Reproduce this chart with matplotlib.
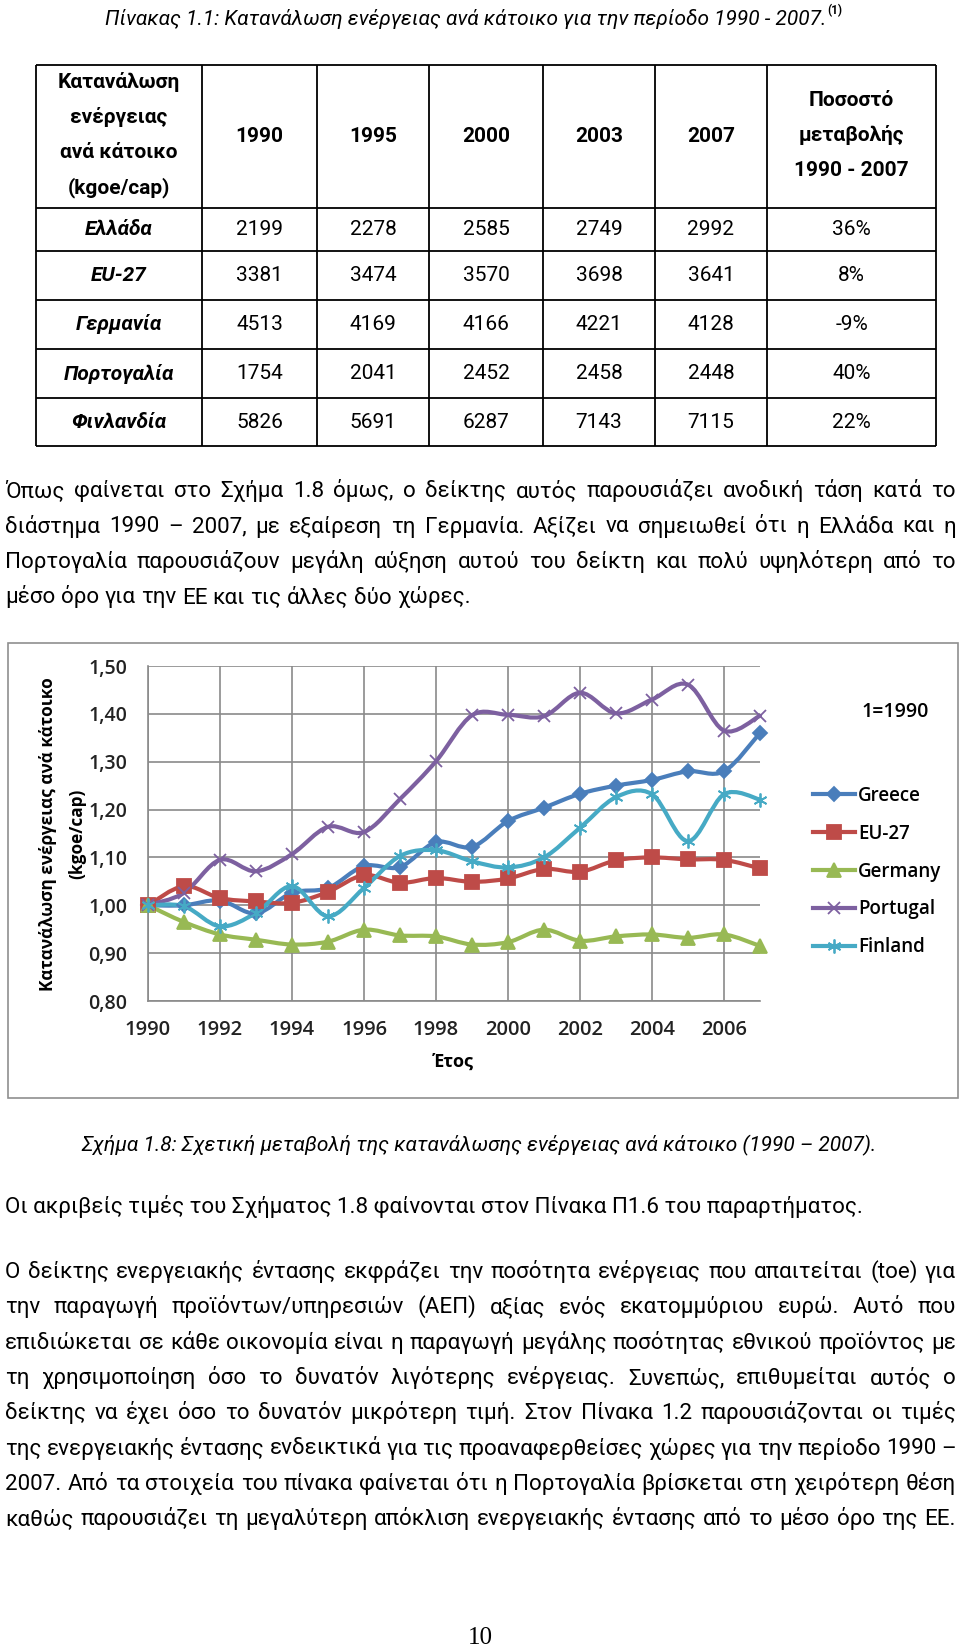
import numpy as np
import matplotlib.pyplot as plt
from matplotlib.path import Path
from matplotlib.patches import PathPatch, Rectangle
from matplotlib.lines import Line2D

plt.rcParams['font.family'] = ['Roboto', 'DejaVu Sans']
chart_font = ['Open Sans', 'DejaVu Sans']

# ---- table data (kgoe/cap) ----
table_years = ['1990', '1995', '2000', '2003', '2007']
table_countries = ['Ελλάδα', 'EU-27', 'Γερμανία', 'Πορτογαλία', 'Φινλανδία']
greece_kgoe = [2199, 2278, 2585, 2749, 2992]
eu27_kgoe = [3381, 3474, 3570, 3698, 3641]
germany_kgoe = [4513, 4169, 4166, 4221, 4128]
portugal_kgoe = [1754, 2041, 2452, 2458, 2448]
finland_kgoe = [5826, 5691, 6287, 7143, 7115]
change_pct = ['36%', '8%', '-9%', '40%', '22%']
header_first = ['Κατανάλωση', 'ενέργειας', 'ανά κάτοικο', '(kgoe/cap)']
header_last = ['Ποσοστό', 'μεταβολής', '1990 - 2007']

# ---- chart data (1 = 1990) ----
years = list(range(1990, 2008))
greece = [1.00, 1.00, 1.01, 0.983, 1.026, 1.036, 1.082, 1.08, 1.132, 1.122,
          1.176, 1.204, 1.233, 1.25, 1.262, 1.28, 1.28, 1.36]
eu27 = [1.00, 1.04, 1.015, 1.008, 1.005, 1.028, 1.063, 1.047, 1.057, 1.049,
        1.056, 1.076, 1.07, 1.094, 1.10, 1.096, 1.095, 1.077]
germany = [1.00, 0.965, 0.939, 0.928, 0.918, 0.924, 0.949, 0.937, 0.935, 0.918,
           0.923, 0.949, 0.926, 0.935, 0.939, 0.932, 0.939, 0.915]
portugal = [1.00, 1.026, 1.095, 1.071, 1.107, 1.164, 1.153, 1.222, 1.301, 1.397,
            1.398, 1.395, 1.444, 1.401, 1.43, 1.461, 1.365, 1.396]
finland = [1.00, 0.998, 0.956, 0.984, 1.04, 0.977, 1.036, 1.103, 1.115, 1.092,
           1.079, 1.10, 1.162, 1.226, 1.232, 1.134, 1.232, 1.221]
series_names = ['Greece', 'EU-27', 'Germany', 'Portugal', 'Finland']
series_colors = ['#4A7EBB', '#BE4B48', '#98B954', '#7D60A0', '#46AAC5']
y_ticks = [0.8, 0.9, 1.0, 1.1, 1.2, 1.3, 1.4, 1.5]
x_ticks = list(range(1990, 2007, 2))

# ---- text ----
table_caption = 'Πίνακας 1.1: Κατανάλωση ενέργειας ανά κάτοικο για την περίοδο 1990 - 2007.'
para1 = ['Όπως φαίνεται στο Σχήμα 1.8 όμως, ο δείκτης αυτός παρουσιάζει ανοδική τάση κατά το',
         'διάστημα 1990 – 2007, με εξαίρεση τη Γερμανία. Αξίζει να σημειωθεί ότι η Ελλάδα και η',
         'Πορτογαλία παρουσιάζουν μεγάλη αύξηση αυτού του δείκτη και πολύ υψηλότερη από το',
         'μέσο όρο για την ΕΕ και τις άλλες δύο χώρες.']
fig_caption = 'Σχήμα 1.8: Σχετική μεταβολή της κατανάλωσης ενέργειας ανά κάτοικο (1990 – 2007).'
note_line = 'Οι ακριβείς τιμές του Σχήματος 1.8 φαίνονται στον Πίνακα Π1.6 του παραρτήματος.'
para2 = ['Ο δείκτης ενεργειακής έντασης εκφράζει την ποσότητα ενέργειας που απαιτείται (toe) για',
         'την παραγωγή προϊόντων/υπηρεσιών (ΑΕΠ) αξίας ενός εκατομμύριου ευρώ. Αυτό που',
         'επιδιώκεται σε κάθε οικονομία είναι η παραγωγή μεγάλης ποσότητας εθνικού προϊόντος με',
         'τη χρησιμοποίηση όσο το δυνατόν λιγότερης ενέργειας. Συνεπώς, επιθυμείται αυτός ο',
         'δείκτης να έχει όσο το δυνατόν μικρότερη τιμή. Στον Πίνακα 1.2 παρουσιάζονται οι τιμές',
         'της ενεργειακής έντασης ενδεικτικά για τις προαναφερθείσες χώρες για την περίοδο 1990 –',
         '2007. Από τα στοιχεία του πίνακα φαίνεται ότι η Πορτογαλία βρίσκεται στη χειρότερη θέση',
         'καθώς παρουσιάζει τη μεγαλύτερη απόκλιση ενεργειακής έντασης από το μέσο όρο της ΕΕ.']

# page canvas in pixel units
fig = plt.figure(figsize=(9.6, 16.51), dpi=100)
page = fig.add_axes([0, 0, 1, 1])
page.set_xlim(0, 960)
page.set_ylim(1651, 0)
page.axis('off')
renderer = fig.canvas.get_renderer()


def width_of(s, size, **kw):
    t = page.text(0, 0, s, fontsize=size, **kw)
    w = t.get_window_extent(renderer).width
    t.remove()
    return w


def fit(s, target, **kw):
    return 10 * target / width_of(s, 10, **kw)


def justify(line, y, size, x0=5, x1=956, last=False):
    words = line.split(' ')
    widths = [width_of(w, size) for w in words]
    if last:
        gap = width_of('a b', size) - width_of('ab', size)
    else:
        gap = (x1 - x0 - sum(widths)) / (len(words) - 1)
    x = x0
    for w, wd in zip(words, widths):
        page.text(x, y, w, fontsize=size, va='baseline')
        x += wd + gap


# ---- table ----
cap_size = fit(table_caption, 719, style='italic')
page.text(105, 25, table_caption, fontsize=cap_size, style='italic', va='baseline')
cap_w = width_of(table_caption, cap_size, style='italic')
page.text(105 + cap_w + 1, 14, '(1)', fontsize=8.5, fontweight='bold', va='baseline')

col_edges = [36, 202, 317, 429, 543, 655, 767, 936]
row_edges = [65, 208, 251, 300, 349, 398, 446]
page.hlines(row_edges, col_edges[0], col_edges[-1], color='black', lw=1.3)
page.vlines(col_edges, row_edges[0], row_edges[-1], color='black', lw=1.3)
col_mid = [(a + b) / 2 for a, b in zip(col_edges[:-1], col_edges[1:])]
row_mid = [(a + b) / 2 for a, b in zip(row_edges[:-1], row_edges[1:])]

tsize = 15
for i, s in enumerate(header_first):
    page.text(col_mid[0], 82 + 35.3 * i, s, fontsize=tsize, fontweight='bold', ha='center', va='center')
for i, s in enumerate(header_last):
    page.text(col_mid[-1], 100 + 35 * i, s, fontsize=tsize, fontweight='bold', ha='center', va='center')
for j, yr in enumerate(table_years):
    page.text(col_mid[j + 1], row_mid[0], yr, fontsize=tsize, fontweight='bold', ha='center', va='center')

table_vals = [greece_kgoe, eu27_kgoe, germany_kgoe, portugal_kgoe, finland_kgoe]
for i, (name, vals, pct) in enumerate(zip(table_countries, table_vals, change_pct)):
    y = row_mid[i + 1]
    page.text(col_mid[0], y, name, fontsize=tsize, fontweight='bold', style='italic', ha='center', va='center')
    for j, v in enumerate(vals):
        page.text(col_mid[j + 1], y, str(v), fontsize=tsize, ha='center', va='center')
    page.text(col_mid[-1], y, pct, fontsize=tsize, ha='center', va='center')

# ---- body text ----
body_size = fit(note_line, 863)
body_size = min([body_size] + [fit(s, 951) for s in para1 + para2])

for i, line in enumerate(para1):
    justify(line, 497 + 35.5 * i, body_size, last=(i == len(para1) - 1))

fc_size = fit(fig_caption, 794, style='italic')
page.text(479, 1151, fig_caption, fontsize=fc_size, style='italic', ha='center', va='baseline')
page.text(5, 1213, note_line, fontsize=body_size, va='baseline')
for i, line in enumerate(para2):
    justify(line, 1278 + 35.3 * i, body_size)

page.text(480, 1638, '10', family='Liberation Serif', fontsize=18, ha='center', va='center')

# ---- chart ----
page.add_patch(Rectangle((8, 643), 950, 455, fill=False, ec='#8f8f8f', lw=1.2))


def smooth_path(xs, ys):
    pts = np.column_stack([xs, ys]).astype(float)
    verts = [pts[0]]
    codes = [Path.MOVETO]
    n = len(pts)
    for i in range(n - 1):
        p0 = pts[i - 1] if i > 0 else pts[i]
        p1, p2 = pts[i], pts[i + 1]
        p3 = pts[i + 2] if i + 2 < n else pts[i + 1]
        verts += [p1 + (p2 - p0) / 6, p2 - (p3 - p1) / 6, p2]
        codes += [Path.CURVE4] * 3
    return Path(verts, codes)


chart_w = 'semibold'
ax = fig.add_axes([148 / 960, 1 - 1001 / 1651, 612 / 960, 335 / 1651])
ax.set_facecolor('none')
ax.set_xlim(1990, 2007)
ax.set_ylim(0.8, 1.5)
ax.set_yticks(y_ticks)
ax.set_yticklabels([f'{v:.2f}'.replace('.', ',') for v in y_ticks], family=chart_font,
                   fontsize=14, fontweight=chart_w, color='#222222')
ax.set_xticks(x_ticks)
ax.set_xticklabels([str(v) for v in x_ticks], family=chart_font, fontsize=14.5,
                   fontweight=chart_w, color='#222222')
ax.tick_params(length=0)
ax.tick_params(axis='y', pad=15)
ax.tick_params(axis='x', pad=13.5)
ax.grid(True, color='#8a8a8a', lw=1.2)
ax.set_axisbelow(True)
for side in ['top', 'right']:
    ax.spines[side].set_visible(False)
for side in ['left', 'bottom']:
    ax.spines[side].set_color('#8a8a8a')
    ax.spines[side].set_linewidth(1.2)

markers = ['D', 's', '^', 'x', (6, 2, 0)]
msizes = [7.5, 10, 10, 9, 10]
handles = []
for vals, color, mk, ms in zip([greece, eu27, germany, portugal, finland], series_colors, markers, msizes):
    ax.add_patch(PathPatch(smooth_path(years, vals), fill=False, ec=color, lw=3,
                           joinstyle='round', capstyle='round', zorder=3, clip_on=False))
    ax.plot(years, vals, ls='none', marker=mk, ms=ms, color=color, mew=1.3, zorder=4, clip_on=False)
    handles.append(Line2D([], [], color=color, lw=3, marker=mk, ms=ms, mew=1.3))

ax.legend(handles, series_names, loc='upper left', bbox_to_anchor=(813 / 960, 1 - 786 / 1651),
          bbox_transform=fig.transFigure, frameon=False, borderpad=0, borderaxespad=0,
          handlelength=2.25, handletextpad=0.15, labelspacing=0.95,
          prop={'family': chart_font, 'size': 13.5, 'weight': chart_w})

ylab = 'Κατανάλωση ενέργειας ανά κάτοικο'
ylab_size = fit(ylab, 315, family=chart_font, fontweight='bold')
page.text(48, 834, ylab, rotation=90, ha='center', va='center', family=chart_font,
          fontweight='bold', fontsize=ylab_size)
page.text(77, 834, '(kgoe/cap)', rotation=90, ha='center', va='center', family=chart_font,
          fontweight='bold', fontsize=ylab_size)
page.text(453, 1062, 'Έτος', ha='center', va='center', family=chart_font, fontweight='bold', fontsize=13)
page.text(895, 712, '1=1990', ha='center', va='center', family=chart_font, fontweight=chart_w, fontsize=14)

fig.savefig('out.png', dpi=100)
